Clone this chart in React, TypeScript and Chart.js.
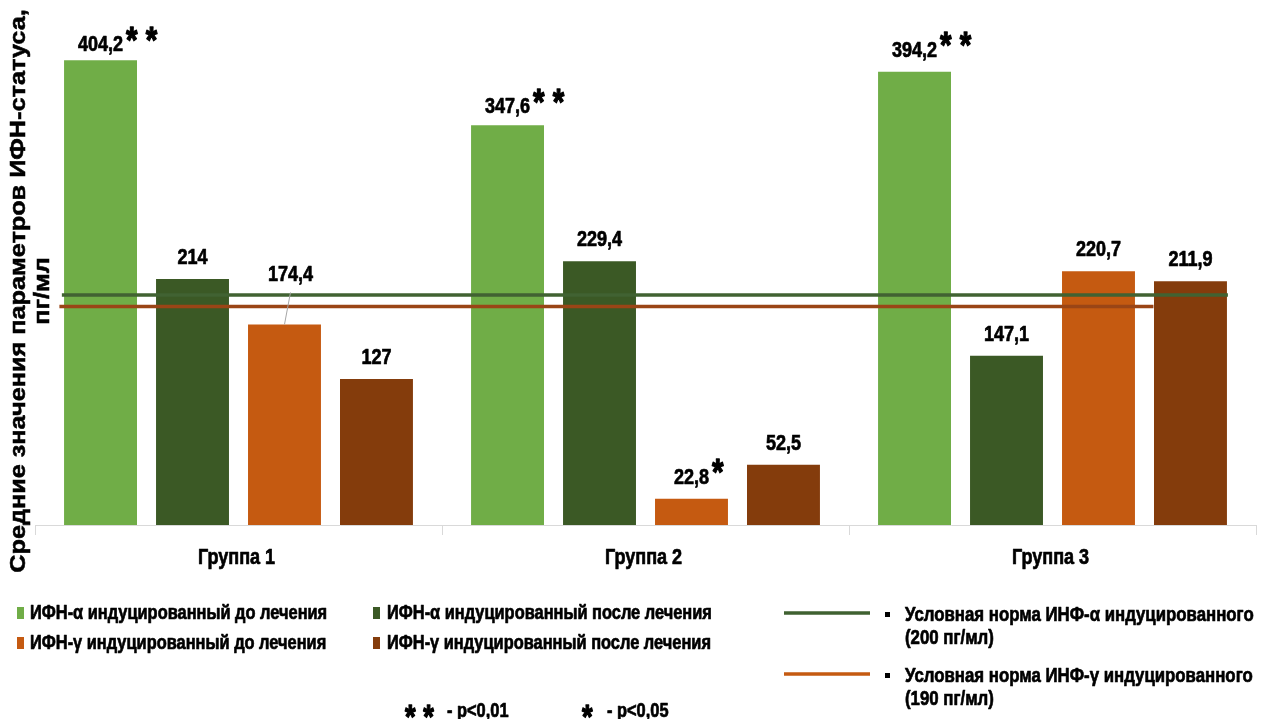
import React, { useEffect, useRef } from "react";
import { Chart, registerables } from "chart.js";

Chart.register(...registerables);

// ---------- data ----------
const categories = ["Группа 1", "Группа 2", "Группа 3"];
const seriesLabels = [
  "ИФН-α индуцированный до лечения",
  "ИФН-α индуцированный после лечения",
  "ИФН-γ индуцированный до лечения",
  "ИФН-γ индуцированный после лечения",
];
const alphaBefore = [404.2, 347.6, 394.2];
const alphaAfter = [214, 229.4, 147.1];
const gammaBefore = [174.4, 22.8, 220.7];
const gammaAfter = [127, 52.5, 211.9];
const alphaBeforeMarks = ["* *", "* *", "* *"];
const alphaAfterMarks = ["", "", ""];
const gammaBeforeMarks = ["", "*", ""];
const gammaAfterMarks = ["", "", ""];
const normValues = [200, 190];
const normLabels = [
  "Условная норма ИНФ-α индуцированного",
  "Условная норма ИНФ-γ индуцированного",
];
const normNotes = ["(200 пг/мл)", "(190 пг/мл)"];
const yAxisTitle = ["Средние значения параметров ИФН-статуса,", "пг/мл"];
const significanceMarks = ["* *", "*"];
const significanceTexts = ["- p<0,01", "- p<0,05"];

// ---------- style ----------
const barColors = ["#70AD47", "#3B5925", "#C55A11", "#843C0C"];
const normLineColors = ["#416232", "#9A4516"];
const normLegendColors = ["#3F6130", "#C55A11"];
const FONT = '"Liberation Sans", Arial, sans-serif';
const SQ = 0.82;

function sText(
  ctx: CanvasRenderingContext2D,
  text: string,
  x: number,
  y: number,
  size: number,
  align: CanvasTextAlign = "left",
  sx = SQ,
  color = "#000"
) {
  ctx.save();
  ctx.font = `bold ${size}px ${FONT}`;
  ctx.fillStyle = color;
  ctx.strokeStyle = color;
  ctx.lineWidth = 0.7;
  ctx.lineJoin = "round";
  ctx.textBaseline = "middle";
  ctx.textAlign = align;
  ctx.translate(x, y);
  ctx.scale(sx, 1);
  ctx.fillText(text, 0, 0);
  ctx.strokeText(text, 0, 0);
  const w = ctx.measureText(text).width * sx;
  ctx.restore();
  return w;
}

function stars(ctx: CanvasRenderingContext2D, m: string, x: number, cy: number, size: number) {
  ctx.save();
  ctx.font = `bold ${size}px ${FONT}`;
  ctx.fillStyle = "#000";
  ctx.strokeStyle = "#000";
  ctx.lineWidth = 1.3;
  ctx.lineJoin = "round";
  ctx.textBaseline = "alphabetic";
  ctx.textAlign = "left";
  ctx.translate(x, cy + size * 0.58);
  ctx.scale(0.8, 1);
  ctx.fillText(m, 0, 0);
  ctx.strokeText(m, 0, 0);
  ctx.restore();
}

function fmt(v: number) {
  return String(v).replace(".", ",");
}

// label adjustments (annotation placement): key "dataset-index" -> [dx, dy, leader]
const labelAdjust: Record<string, [number, number, boolean]> = {
  "0-0": [0, 6, false],
  "0-1": [0, 3, false],
  "2-0": [6, -29, true],
};

const normPlugin = {
  id: "normLines",
  afterDatasetsDraw(chart: any) {
    const { ctx, chartArea, scales } = chart;
    const spans = [
      [0.022, 0.977],
      [0.02, 0.916],
    ];
    normValues.forEach((v, i) => {
      const y = scales.y.getPixelForValue(v);
      const w = chartArea.right - chartArea.left;
      ctx.save();
      ctx.strokeStyle = normLineColors[i];
      ctx.lineWidth = 3.5;
      ctx.beginPath();
      ctx.moveTo(chartArea.left + w * spans[i][0], y);
      ctx.lineTo(chartArea.left + w * spans[i][1], y);
      ctx.stroke();
      ctx.restore();
    });
  },
};

const labelPlugin = {
  id: "barLabels",
  afterDatasetsDraw(chart: any) {
    const { ctx } = chart;
    const marks = [alphaBeforeMarks, alphaAfterMarks, gammaBeforeMarks, gammaAfterMarks];
    chart.data.datasets.forEach((ds: any, di: number) => {
      const meta = chart.getDatasetMeta(di);
      meta.data.forEach((bar: any, i: number) => {
        const adj = labelAdjust[`${di}-${i}`] || [0, 0, false];
        const cx = bar.x + adj[0];
        const cy = bar.y - 21 + adj[1];
        if (adj[2]) {
          ctx.save();
          ctx.strokeStyle = "#a6a6a6";
          ctx.lineWidth = 1;
          ctx.beginPath();
          ctx.moveTo(cx, cy + 18);
          ctx.lineTo(bar.x, bar.y);
          ctx.stroke();
          ctx.restore();
        }
        const w = sText(ctx, fmt(ds.data[i]), cx, cy, 22, "center");
        const m = marks[di][i];
        if (m) stars(ctx, m, cx + w / 2 + 3, cy - 14, 37);
      });
    });
  },
};

const decorPlugin = {
  id: "decor",
  afterDraw(chart: any) {
    const { ctx, scales } = chart;
    // axis title (rotated)
    ctx.save();
    ctx.translate(19, 291);
    ctx.rotate(-Math.PI / 2);
    ctx.scale(1.01, 0.9);
    ctx.font = `bold 25px ${FONT}`;
    ctx.fillStyle = "#000";
    ctx.strokeStyle = "#000";
    ctx.lineWidth = 0.6;
    ctx.textAlign = "center";
    ctx.textBaseline = "middle";
    ctx.fillText(yAxisTitle[0], 0, 0);
    ctx.strokeText(yAxisTitle[0], 0, 0);
    ctx.fillText(yAxisTitle[1], 0, 24 / 0.9);
    ctx.strokeText(yAxisTitle[1], 0, 24 / 0.9);
    ctx.restore();

    // category labels
    categories.forEach((c, i) => {
      sText(ctx, c, scales.x.getPixelForValue(i) - 2, 558, 22, "center");
    });

    // legend for bars
    const pos = [
      [17, 30, 613],
      [373, 387, 613],
      [17, 30, 643],
      [373, 387, 643],
    ];
    chart.data.datasets.forEach((ds: any, i: number) => {
      const [sx, tx, y] = pos[i];
      ctx.fillStyle = ds.backgroundColor;
      ctx.fillRect(sx, y - 6, 7, 12);
      sText(ctx, ds.label, tx, y, 20, "left");
    });

    // legend for norms
    const nRows = [615, 676];
    normLabels.forEach((t, i) => {
      const y = nRows[i];
      ctx.save();
      ctx.strokeStyle = normLegendColors[i];
      ctx.lineWidth = 3.5;
      ctx.beginPath();
      ctx.moveTo(784, y - 2);
      ctx.lineTo(870, y - 2);
      ctx.stroke();
      ctx.fillStyle = "#000";
      ctx.fillRect(885, y - 3, 5, 5);
      ctx.restore();
      sText(ctx, t, 905, y, 20.5, "left");
      sText(ctx, normNotes[i], 905, y + 23, 20.5, "left");
    });

    // significance notes
    const sigX = [[405, 447], [582, 607]];
    significanceMarks.forEach((m, i) => {
      stars(ctx, m, sigX[i][0], 708, 34);
      sText(ctx, significanceTexts[i], sigX[i][1], 711, 20, "left");
    });
  },
};

export default function App() {
  const ref = useRef<HTMLCanvasElement | null>(null);
  useEffect(() => {
    if (!ref.current) return;
    const seriesData = [alphaBefore, alphaAfter, gammaBefore, gammaAfter];
    const chart = new Chart(ref.current, {
      type: "bar",
      data: {
        labels: categories,
        datasets: seriesData.map((d, i) => ({
          label: seriesLabels[i],
          data: d,
          backgroundColor: barColors[i],
          borderWidth: 0,
          categoryPercentage: 0.904,
          barPercentage: 0.793,
        })),
      },
      options: {
        responsive: false,
        animation: false,
        layout: { padding: { left: 35, right: 11, top: 7.5, bottom: 0 } },
        plugins: { legend: { display: false }, tooltip: { enabled: false } },
        scales: {
          x: {
            ticks: { display: false },
            grid: {
              drawOnChartArea: false,
              drawTicks: true,
              tickLength: 10,
              color: "#d9d9d9",
            },
            border: { color: "#d9d9d9", width: 1 },
            afterFit: (s: any) => {
              s.height = 194;
            },
          },
          y: { display: false, min: 0, max: 450 },
        },
      },
      plugins: [normPlugin, labelPlugin, decorPlugin],
    });
    return () => chart.destroy();
  }, []);
  return (
    <div style={{ position: "absolute", left: 0, top: 0, width: 1267, height: 719, background: "#fff" }}>
      <canvas ref={ref} width={1267} height={719} style={{ display: "block" }} />
    </div>
  );
}
